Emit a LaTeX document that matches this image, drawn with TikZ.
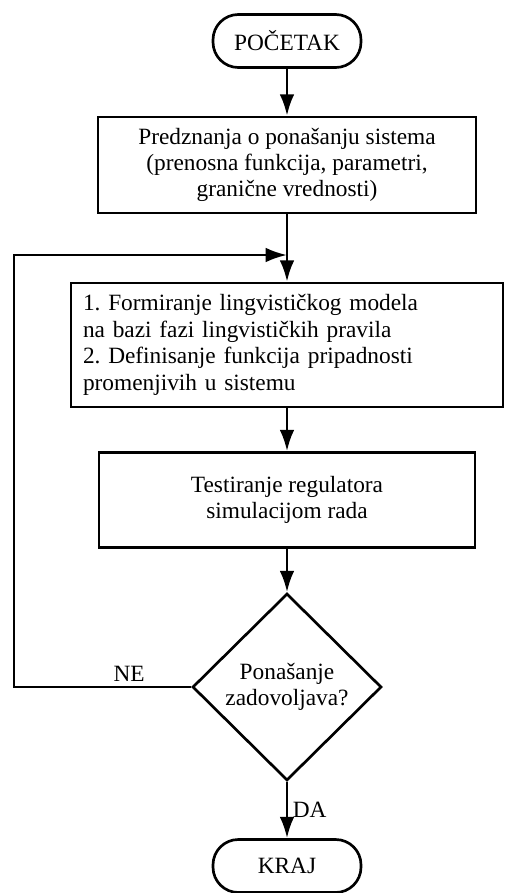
\documentclass[tikz,border=0pt]{standalone}
\usepackage{fontspec}
\setmainfont{Liberation Serif}
\frenchspacing
\usetikzlibrary{shapes.geometric,arrows.meta}

\begin{document}
\begin{tikzpicture}[x=0.75pt,y=-0.75pt,text centered,
	font=\fontsize{17.5}{19.5}\selectfont,
	terminal/.style={rectangle,rounded corners=19pt,draw=black,line width=2pt,minimum width=111pt,minimum height=39.75pt},
	block/.style={rectangle,draw=black,line width=2pt,align=center},
	test/.style={diamond,draw=black,line width=2pt,inner sep=0pt,align=center,minimum width=141.75pt,minimum height=140.25pt},
	line/.style={draw,line width=2pt,-{Latex[length=16pt,width=11pt]}}]
\useasboundingbox (0,0) rectangle (504,893);
\node[terminal] (start) at (287,41) {POČETAK};
\node[below of=start,block,node distance=93pt,minimum width=283.5pt,minimum height=72pt] (pre) {Predznanja o ponašanju sistema\\(prenosna funkcija, parametri,\\granične vrednosti)};
\node[below of=pre,block,node distance=135pt,align=left,text width=306pt,inner xsep=9pt,minimum height=93pt,font=\fontsize{17.5}{20}\selectfont] (model) {1. Formiranje lingvističkog modela\\na bazi fazi lingvističkih pravila\\2. Definisanje funkcija pripadnosti\\promenjivih u sistemu};
\node[below of=model,block,node distance=116.25pt,minimum width=282pt,minimum height=71.25pt] (sim) {Testiranje regulatora\\simulacijom rada};
\node[below of=sim,test,node distance=140.25pt] (test) {Ponašanje\\zadovoljava?};
\node[below of=test,terminal,node distance=134.25pt] (stop) {KRAJ};
\coordinate (back) at (14,687);
\coordinate (join) at (287,255);
\path[line] (start) -- (pre);
\path[line] (pre) -- (model);
\path[line] (model) -- (sim);
\path[line] (sim) -- (test);
\path[line] (test) --node[right] {DA} (stop);
\path[line] (test.west) --node[pos=0.35,above] {NE} (back) |- (join);
\end{tikzpicture}
\end{document}
